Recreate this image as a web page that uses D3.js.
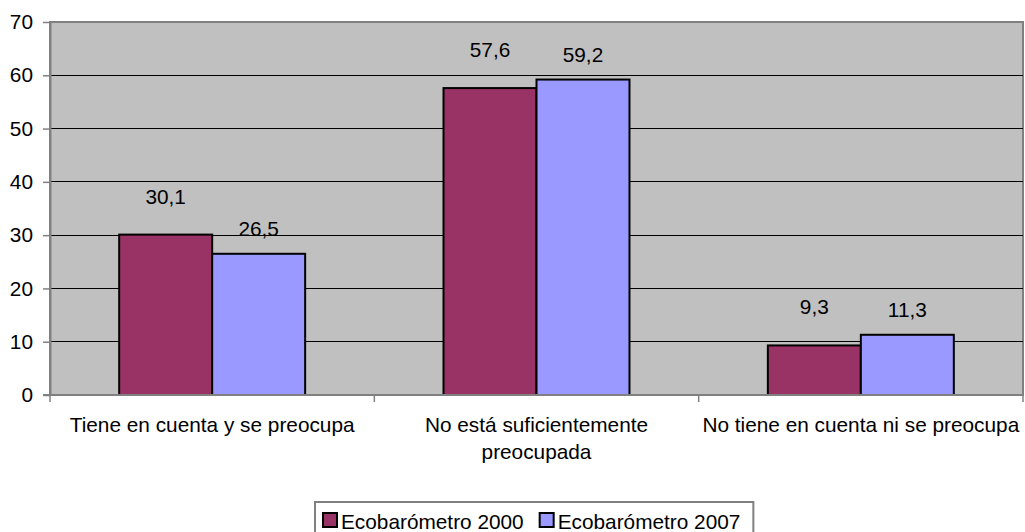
<!DOCTYPE html>
<html>
<head>
<meta charset="utf-8">
<script src="https://cdn.jsdelivr.net/npm/d3@7"></script>
<style>
  html, body { margin: 0; padding: 0; background: #fff; }
  svg { display: block; font-family: "Liberation Sans", Arial, sans-serif; }
</style>
</head>
<body>
<div id="chart"></div>
<script>
const categories = ["Tiene en cuenta y se preocupa", "No está suficientemente preocupada", "No tiene en cuenta ni se preocupa"];
const seriesNames = ["Ecobarómetro 2000", "Ecobarómetro 2007"];
const values2000 = [30.1, 57.6, 9.3];
const values2007 = [26.5, 59.2, 11.3];
const yTicks = [0, 10, 20, 30, 40, 50, 60, 70];
const colors = ["#993366", "#9999FF"];

const width = 1025, height = 532;
const margin = {top: 22, right: 2, bottom: 137, left: 50};
const fontSize = 20.8;

const rows = categories.map((c, i) => ({cat: c, vals: [values2000[i], values2007[i]]}));

/// SETUP scales
let x0 = d3.scaleBand()
  .domain(categories)
  .range([margin.left, width - margin.right])
  .padding(0);

let x1 = d3.scaleBand()
  .domain(seriesNames)
  .range([0, x0.bandwidth()])
  .paddingInner(0)
  .paddingOuter(0.744);

let y = d3.scaleLinear()
  .domain([0, 70])
  .range([height - margin.bottom, margin.top]);

const locale = d3.formatLocale({decimal: ",", thousands: ".", grouping: [3], currency: ["", "€"]});
const fmt = locale.format(".1f");

/// CREATE SVG
let svg = d3.select('#chart')
  .append('svg')
  .attr('width', width)
  .attr('height', height)
  .style('font-size', fontSize + 'px');

// plot background
svg.append('rect')
  .attr('x', margin.left)
  .attr('y', margin.top)
  .attr('width', width - margin.right - margin.left)
  .attr('height', y(0) - margin.top)
  .attr('fill', '#c0c0c0')
  .attr('stroke', '#808080')
  .attr('stroke-width', 2);

// gridlines
svg.append('g')
  .selectAll('line')
  .data(yTicks.filter(t => t > 0 && t < 70))
  .join('line')
  .attr('x1', margin.left)
  .attr('x2', width - margin.right)
  .attr('y1', d => y(d))
  .attr('y2', d => y(d))
  .attr('stroke', '#000')
  .attr('stroke-width', 1)
  .attr('shape-rendering', 'crispEdges');

/// BUILD bars
let groups = svg.append('g')
  .selectAll('g')
  .data(rows)
  .join('g')
  .attr('transform', d => `translate(${x0(d.cat)},0)`);

groups.selectAll('rect')
  .data(d => d.vals.map((v, i) => ({key: seriesNames[i], v, i})))
  .join('rect')
  .attr('x', d => x1(d.key))
  .attr('y', d => y(d.v))
  .attr('width', x1.bandwidth())
  .attr('height', d => y(0) - y(d.v))
  .attr('fill', d => colors[d.i])
  .attr('stroke', '#000')
  .attr('stroke-width', 2);

// value labels
const labelOffset = [31, 18];
groups.selectAll('text')
  .data(d => d.vals.map((v, i) => ({key: seriesNames[i], v, i})))
  .join('text')
  .attr('x', d => x1(d.key) + x1.bandwidth() / 2)
  .attr('y', d => y(d.v) - labelOffset[d.i])
  .attr('text-anchor', 'middle')
  .attr('fill', '#000')
  .text(d => fmt(d.v));

/// DISPLAY axes
let yAxis = svg.append('g')
  .attr('transform', `translate(${margin.left},0)`)
  .call(d3.axisLeft(y).tickValues(yTicks).tickSize(7).tickPadding(10).tickSizeOuter(0))
  .style('font-size', fontSize + 'px')
  .style('font-family', '"Liberation Sans", Arial, sans-serif');
yAxis.select('.domain').attr('stroke', '#808080').attr('stroke-width', 2);
yAxis.selectAll('.tick line').attr('stroke', '#808080').attr('stroke-width', 1.5);
yAxis.selectAll('.tick text').attr('fill', '#000');

// bottom axis line and boundary ticks
let xAxis = svg.append('g');
xAxis.append('line')
  .attr('x1', margin.left - 7)
  .attr('x2', width - margin.right)
  .attr('y1', y(0))
  .attr('y2', y(0))
  .attr('stroke', '#808080')
  .attr('stroke-width', 2);
const bounds = categories.map(c => x0(c)).concat([x0(categories[categories.length - 1]) + x0.bandwidth()]);
xAxis.selectAll('line.tk')
  .data(bounds)
  .join('line')
  .attr('class', 'tk')
  .attr('x1', d => d)
  .attr('x2', d => d)
  .attr('y1', y(0))
  .attr('y2', y(0) + 7)
  .attr('stroke', '#808080')
  .attr('stroke-width', 1.5);

// category labels, wrapped to the band width
let catText = xAxis.selectAll('text.cat')
  .data(categories)
  .join('text')
  .attr('class', 'cat')
  .attr('x', d => x0(d) + x0.bandwidth() / 2)
  .attr('y', y(0) + 37)
  .attr('text-anchor', 'middle')
  .attr('fill', '#000');

catText.each(function(d) {
  const t = d3.select(this);
  const cx = +t.attr('x');
  const words = d.split(' ');
  let line = [], lines = [];
  let tspan = t.append('tspan').attr('x', cx);
  words.forEach(w => {
    line.push(w);
    tspan.text(line.join(' '));
    if (tspan.node().getComputedTextLength() > x0.bandwidth() - 2 && line.length > 1) {
      line.pop();
      lines.push(line.join(' '));
      line = [w];
    }
  });
  lines.push(line.join(' '));
  t.text(null);
  lines.forEach((l, i) => {
    t.append('tspan').attr('x', cx).attr('dy', i === 0 ? 0 : 27).text(l);
  });
});

/// LEGEND
let legend = svg.append('g');
let box = legend.append('rect')
  .attr('fill', '#fff')
  .attr('stroke', '#808080')
  .attr('stroke-width', 2);
let items = legend.selectAll('g')
  .data(seriesNames)
  .join('g');
items.append('rect')
  .attr('width', 14)
  .attr('height', 14)
  .attr('y', 513)
  .attr('fill', (d, i) => colors[i])
  .attr('stroke', '#000')
  .attr('stroke-width', 2);
items.append('text')
  .attr('y', 529)
  .attr('fill', '#000')
  .text(d => d);

let cursor = 7;
const pos = [];
items.each(function(d, i) {
  const w = d3.select(this).select('text').node().getComputedTextLength();
  pos.push(cursor);
  cursor += 15 + 4 + w + (i < seriesNames.length - 1 ? 15 : 13);
});
const legendW = cursor;
const legendX = Math.round(534 - legendW / 2);
items.each(function(d, i) {
  const g = d3.select(this);
  g.select('rect').attr('x', legendX + pos[i] + 1);
  g.select('text').attr('x', legendX + pos[i] + 19);
});
box.attr('x', legendX).attr('y', 502).attr('width', legendW).attr('height', 40);
</script>
</body>
</html>
